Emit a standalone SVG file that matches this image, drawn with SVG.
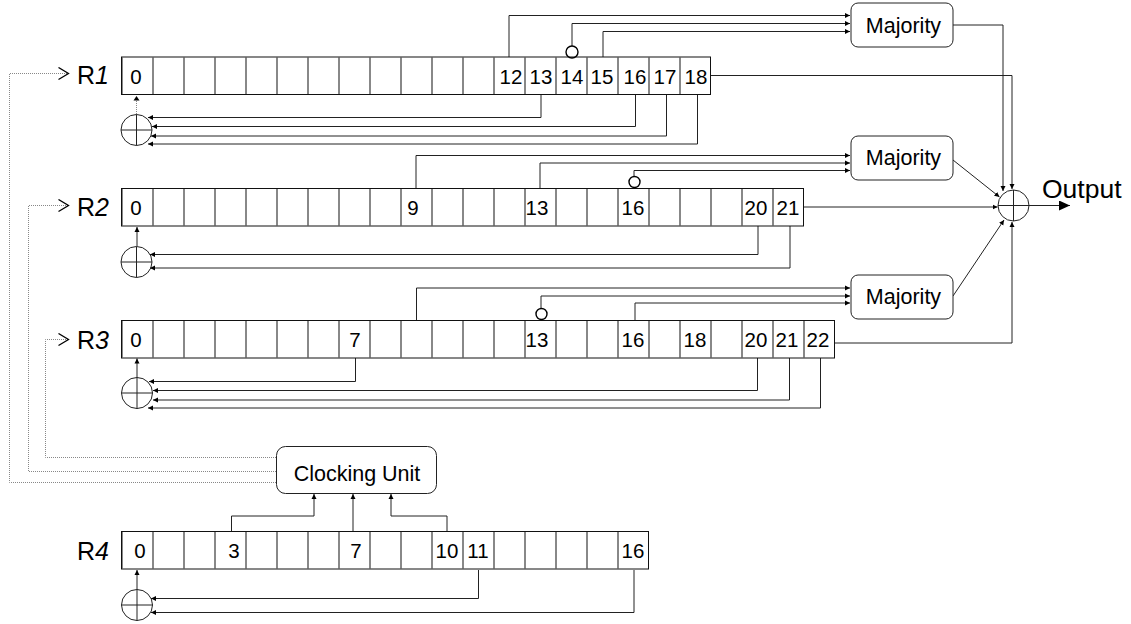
<svg xmlns="http://www.w3.org/2000/svg" width="1131" height="624" viewBox="0 0 1131 624">
<defs>
<marker id="a" markerUnits="userSpaceOnUse" markerWidth="6" markerHeight="6" refX="5" refY="3" orient="auto"><path d="M0 .5L5 3L0 5.500z" fill="#000"/></marker>
<marker id="b" markerUnits="userSpaceOnUse" markerWidth="12" markerHeight="10" refX="11" refY="5" orient="auto"><path d="M0 0L11 5L0 10z" fill="#000"/></marker>
<marker id="o" markerUnits="userSpaceOnUse" markerWidth="13" markerHeight="14" refX="11.500" refY="7" orient="auto"><path d="M1 1L11 7L1 13" fill="none" stroke="#000" stroke-width="1.300"/></marker>
<pattern id="cell" patternUnits="userSpaceOnUse" x="121.5" y="0" width="31" height="624"><path d="M.5 0V624" stroke="#111" stroke-width="1"/></pattern>
</defs>
<style>
text{font-family:"Liberation Sans",Arial,sans-serif;fill:#000}
.n{font-size:20.500px;text-anchor:middle}
.r{font-size:25px}
.m{font-size:21.500px;text-anchor:middle}
.reg{fill:#fff;stroke:#111;stroke-width:1}
.c{fill:none;stroke:#222;stroke-width:1}
.tap{fill:none;stroke:#000;stroke-width:1.400}
.t{fill:none;stroke:#222;stroke-width:1;marker-end:url(#a)}
.d{fill:none;stroke:#888;stroke-width:1;stroke-dasharray:1 1}
.box{fill:#fff;stroke:#222;stroke-width:1}
</style>
<g id="connectors">
<path class="t" d="M509 57V15.500H850"/>
<path class="t" d="M572 46V23.500H850"/>
<path class="t" d="M603 57V31.500H850"/>
<path class="t" d="M953 25H1003V191"/>
<path class="t" d="M711 75.500H1012V189"/>
<path class="t" d="M541 94V117.500H148"/>
<path class="t" d="M635.500 94V126.500H152"/>
<path class="t" d="M666.500 94V136H151"/>
<path class="t" d="M697.500 94V144H148"/>
<path class="t" d="M416 188V155.500H850"/>
<path class="t" d="M540 188V163H850"/>
<path class="t" d="M634 176V170.500H850"/>
<path class="t" d="M953 160L999.500 197"/>
<path class="t" d="M804 207H997.500"/>
<path class="t" d="M953 296L1004 220"/>
<path d="M1029 205.500H1070" class="c" marker-end="url(#b)"/>
<path class="t" d="M758 226V254.500H150"/>
<path class="t" d="M790 226V268H150"/>
<path class="t" d="M416.500 320V288H850"/>
<path class="t" d="M541 308V296H850"/>
<path class="t" d="M635 320V303H850"/>
<path class="t" d="M835 343H1012V222"/>
<path class="t" d="M355.500 358V381.500H149"/>
<path class="t" d="M757.500 358V390.500H153"/>
<path class="t" d="M789.500 358V400H153"/>
<path class="t" d="M820.500 358V408H148"/>
<path class="t" d="M137 377V358.500"/>
<path class="t" d="M137 246V227"/>
<path class="t" d="M137 589V570"/>
<path class="t" d="M478.500 570V598.500H151"/>
<path class="t" d="M634 570V612.500H151"/>
<path class="t" d="M231.500 532V516H314V494"/>
<path class="t" d="M353 532V494"/>
<path class="t" d="M447 532V516H391V494"/>
<path class="d" d="M136.500 114V100"/>
<path d="M136.500 96L133.500 100.500H139.500z" fill="#000"/>
<path class="d" d="M276 457.500H45.500V339.500H69" marker-end="url(#o)"/>
<path class="d" d="M276 471.500H28.500V205.500H69" marker-end="url(#o)"/>
<path class="d" d="M276 482.500H9.500V73.500H69" marker-end="url(#o)"/>
</g>
<g id="R1"><rect class="reg" x="121.500" y="57" width="589" height="37.500"/><rect x="122" y="57.500" width="588" height="36.500" fill="url(#cell)"/>
<text class="r" x="77" y="83.500">R<tspan font-style="italic">1</tspan></text>
<text class="n" x="136" y="83.500">0</text><text class="n" x="511" y="83.500">12</text><text class="n" x="541" y="83.500">13</text><text class="n" x="572" y="83.500">14</text><text class="n" x="602" y="83.500">15</text><text class="n" x="635" y="83.500">16</text><text class="n" x="665" y="83.500">17</text><text class="n" x="696" y="83.500">18</text></g>
<g id="R2"><rect class="reg" x="121.500" y="188.500" width="682" height="37.500"/><rect x="122" y="189" width="681" height="36.500" fill="url(#cell)"/>
<text class="r" x="77" y="215.500">R<tspan font-style="italic">2</tspan></text>
<text class="n" x="136" y="214.500">0</text><text class="n" x="413" y="214.500">9</text><text class="n" x="537" y="214.500">13</text><text class="n" x="633" y="214.500">16</text><text class="n" x="756" y="214.500">20</text><text class="n" x="788" y="214.500">21</text></g>
<g id="R3"><rect class="reg" x="121.500" y="320.500" width="713" height="37.500"/><rect x="122" y="321" width="712" height="36.500" fill="url(#cell)"/>
<text class="r" x="77" y="349">R<tspan font-style="italic">3</tspan></text>
<text class="n" x="136" y="347">0</text><text class="n" x="355" y="347">7</text><text class="n" x="537" y="347">13</text><text class="n" x="633" y="347">16</text><text class="n" x="695" y="347">18</text><text class="n" x="756" y="347">20</text><text class="n" x="787" y="347">21</text><text class="n" x="818" y="347">22</text></g>
<g id="R4"><rect class="reg" x="121.500" y="531.500" width="527" height="37.500"/><rect x="122" y="532" width="526" height="36.500" fill="url(#cell)"/>
<text class="r" x="77" y="559.500">R<tspan font-style="italic">4</tspan></text>
<text class="n" x="140" y="558">0</text><text class="n" x="234" y="558">3</text><text class="n" x="356" y="558">7</text><text class="n" x="447" y="558">10</text><text class="n" x="478" y="558">11</text><text class="n" x="633" y="558">16</text></g>
<g id="tap1"><circle class="tap" cx="572" cy="52" r="6"/></g>
<g id="tap2"><circle class="tap" cx="634.500" cy="182" r="5.500"/></g>
<g id="tap3"><circle class="tap" cx="541.500" cy="314" r="5.500"/></g>
<g id="xor1"><circle class="c" cx="136.500" cy="130" r="15.500"/><path class="c" d="M121 130H152M136.500 114.500V145.500"/></g>
<g id="xor2"><circle class="c" cx="136.500" cy="262" r="15.500"/><path class="c" d="M121 262H152M136.500 246.500V277.500"/></g>
<g id="xor3"><circle class="c" cx="137" cy="393" r="15.500"/><path class="c" d="M121.500 393H152.500M137 377.500V408.500"/></g>
<g id="xor4"><circle class="c" cx="137" cy="605" r="15.500"/><path class="c" d="M121.500 605H152.500M137 589.500V620.500"/></g>
<g id="xorOut"><circle class="c" cx="1013.500" cy="205.500" r="15.500"/><path class="c" d="M998 205.500H1029M1013.500 190V221"/></g>
<g id="maj1"><rect class="box" x="851" y="3" width="102" height="44" rx="7"/><text class="m" x="903.500" y="33">Majority</text></g>
<g id="maj2"><rect class="box" x="851" y="136" width="102" height="44" rx="7"/><text class="m" x="903.500" y="165">Majority</text></g>
<g id="maj3"><rect class="box" x="851" y="275" width="102" height="44" rx="7"/><text class="m" x="903.500" y="304">Majority</text></g>
<g id="clock"><rect class="box" x="276.500" y="446.500" width="160" height="47" rx="9"/><text class="m" x="357" y="481">Clocking Unit</text></g>
<text x="1042" y="198" font-size="26.500">Output</text>
</svg>
